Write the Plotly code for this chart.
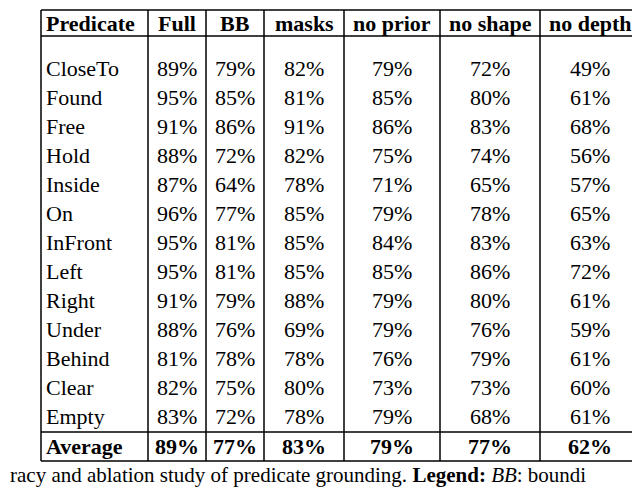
import plotly.graph_objects as go

headers = ["Predicate", "Full", "BB", "masks", "no prior", "no shape", "no depth"]
predicates = ["CloseTo", "Found", "Free", "Hold", "Inside", "On", "InFront", "Left", "Right", "Under", "Behind", "Clear", "Empty"]
full = [89, 95, 91, 88, 87, 96, 95, 95, 91, 88, 81, 82, 83]
bb = [79, 85, 86, 72, 64, 77, 81, 81, 79, 76, 78, 75, 72]
masks = [82, 81, 91, 82, 78, 85, 85, 85, 88, 69, 78, 80, 78]
no_prior = [79, 85, 86, 75, 71, 79, 84, 85, 79, 79, 76, 73, 79]
no_shape = [72, 80, 83, 74, 65, 78, 83, 86, 80, 76, 79, 73, 68]
no_depth = [49, 61, 68, 56, 57, 65, 63, 72, 61, 59, 61, 60, 61]
average = ["Average", 89, 77, 83, 79, 77, 62]
caption = "racy and ablation study of predicate grounding. <b>Legend:</b> <i>BB</i>: boundi"

cols = [33, 140, 198, 256, 336, 432, 532, 632]
top, head_bot, avg_top, bottom = 2, 28, 424, 453
row_y0, row_step = 60, 29.0
FONT = "Liberation Serif, Times New Roman, serif"

fig = go.Figure()
shapes = []
for x in cols:
    shapes.append(dict(type="line", x0=x, x1=x, y0=top, y1=bottom, line=dict(color="black", width=1.5)))
for y in [top, head_bot, avg_top, bottom]:
    shapes.append(dict(type="line", x0=cols[0], x1=cols[-1], y0=y, y1=y, line=dict(color="black", width=1.5)))

ann = []
def cell(ci, y, text, bold=False):
    t = f"<b>{text}</b>" if bold else text
    if ci == 0:
        ann.append(dict(x=cols[0] + 3, y=y, text=t, xanchor="left", yanchor="middle", showarrow=False,
                        font=dict(family=FONT, size=22, color="black")))
    else:
        ann.append(dict(x=(cols[ci] + cols[ci + 1]) / 2, y=y, text=t, xanchor="center", yanchor="middle",
                        showarrow=False, font=dict(family=FONT, size=22, color="black")))

for i, h in enumerate(headers):
    cell(i, 15, h, True)
series = [full, bb, masks, no_prior, no_shape, no_depth]
for r, p in enumerate(predicates):
    y = row_y0 + r * row_step
    cell(0, y, p)
    for c, s in enumerate(series):
        cell(c + 1, y, f"{s[r]}%")
cell(0, 438, average[0], True)
for c, v in enumerate(average[1:]):
    cell(c + 1, 438, f"{v}%", True)

ann.append(dict(x=0, y=467, xref="paper", text=caption, xanchor="left", yanchor="middle", showarrow=False,
                font=dict(family=FONT, size=21, color="black")))

fig.update_layout(width=640, height=488, margin=dict(l=0, r=0, t=0, b=0),
                  plot_bgcolor="white", paper_bgcolor="white", shapes=shapes, annotations=ann,
                  xaxis=dict(range=[0, 640], visible=False, fixedrange=True),
                  yaxis=dict(range=[488, 0], visible=False, fixedrange=True))
fig.write_html("out.html")
